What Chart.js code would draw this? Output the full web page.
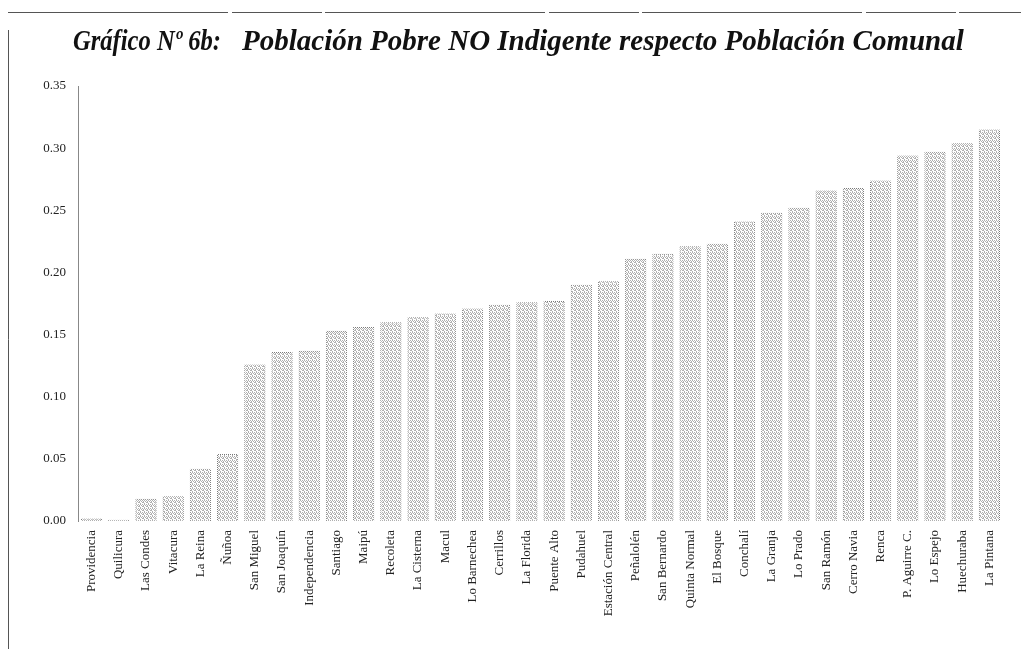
<!DOCTYPE html>
<html>
<head>
<meta charset="utf-8">
<script src="https://cdn.jsdelivr.net/npm/chart.js@4/dist/chart.umd.min.js"></script>
<style>
  body { margin: 0; background: #fff; }
  #caja { width: 1021px; height: 649px; position: relative; }
</style>
</head>
<body>
<div id="caja"><canvas id="grafico"></canvas></div>
<script>
const comunas = ['Providencia', 'Quilicura', 'Las Condes', 'Vitacura', 'La Reina', 'Ñuñoa',
    'San Miguel', 'San Joaquín', 'Independencia', 'Santiago', 'Maipú', 'Recoleta',
    'La Cisterna', 'Macul', 'Lo Barnechea', 'Cerrillos', 'La Florida', 'Puente Alto',
    'Pudahuel', 'Estación Central', 'Peñalolén', 'San Bernardo', 'Quinta Normal', 'El Bosque',
    'Conchalí', 'La Granja', 'Lo Prado', 'San Ramón', 'Cerro Navia', 'Renca',
    'P. Aguirre C.', 'Lo Espejo', 'Huechuraba', 'La Pintana'];

const pobresNoIndigentes = [0.002, 0.001, 0.018, 0.020, 0.042, 0.054,
    0.126, 0.136, 0.137, 0.153, 0.156, 0.160,
    0.164, 0.167, 0.171, 0.174, 0.176, 0.177,
    0.190, 0.193, 0.211, 0.215, 0.221, 0.223,
    0.241, 0.248, 0.252, 0.266, 0.268, 0.274,
    0.294, 0.297, 0.304, 0.315];

const ticksY = [0, 0.05, 0.10, 0.15, 0.20, 0.25, 0.30, 0.35];

const tituloA = 'Gráfico Nº 6b:';
const tituloB = 'Población Pobre NO Indigente respecto Población Comunal';

// trama punteada para imitar el relleno fotocopiado
const crearTrama = (tam, color, puntos) => {
    const c = document.createElement('canvas');
    c.width = tam; c.height = tam;
    const g = c.getContext('2d');
    g.fillStyle = color;
    puntos.forEach(([x, y]) => g.fillRect(x, y, 1, 1));
    return g.createPattern(c, 'repeat');
};

const ctx = document.getElementById('grafico').getContext('2d');
const relleno = crearTrama(4, '#b0b0b0', [[0, 0], [2, 0], [1, 1], [3, 2], [0, 3], [2, 2], [3, 1]]);
const borde = crearTrama(2, '#7a7a7a', [[0, 0], [1, 1]]);

const marco = {
    id: 'marco',
    afterDraw(chart) {
        const c = chart.ctx;
        c.save();
        c.strokeStyle = '#555';
        c.lineWidth = 1;
        c.beginPath();
        c.moveTo(8.5, 30); c.lineTo(8.5, 649);
        c.stroke();
        c.setLineDash([220, 4, 90, 3]);
        c.beginPath();
        c.moveTo(8, 12.5); c.lineTo(1021, 12.5);
        c.stroke();
        c.restore();

        c.save();
        c.fillStyle = '#111';
        c.font = 'italic bold 29px "Liberation Serif"';
        c.textBaseline = 'alphabetic';
        c.textAlign = 'left';
        c.fillText(tituloA, 73, 50, 148);
        c.fillText(tituloB, 242, 50, 723);
        c.restore();
    }
};

new Chart(ctx, {
    type: 'bar',
    data: {
        labels: comunas,
        datasets: [{
            data: pobresNoIndigentes,
            backgroundColor: relleno,
            borderColor: borde,
            borderWidth: 1,
            categoryPercentage: 1,
            barPercentage: 0.78
        }]
    },
    options: {
        responsive: true,
        maintainAspectRatio: false,
        animation: false,
        layout: { padding: { left: 36, right: 18, top: 86, bottom: 0 } },
        plugins: { legend: { display: false }, tooltip: { enabled: false } },
        scales: {
            x: {
                grid: { display: false, drawTicks: false },
                border: { display: false },
                afterFit: (s) => { s.height = 128; },
                ticks: {
                    autoSkip: false,
                    maxRotation: 90,
                    minRotation: 90,
                    padding: 9,
                    color: '#222',
                    font: { family: 'Liberation Serif', size: 13 }
                }
            },
            y: {
                min: 0,
                max: 0.35,
                afterFit: (s) => { s.width = 42; },
                afterBuildTicks: (s) => { s.ticks = ticksY.map(v => ({ value: v })); },
                grid: { display: false, drawTicks: false },
                border: { display: true, color: '#888', dash: [3, 3] },
                ticks: {
                    padding: 12,
                    color: '#222',
                    font: { family: 'Liberation Serif', size: 13 },
                    callback: (v) => Number(v).toFixed(2)
                }
            }
        }
    },
    plugins: [marco]
});
</script>
</body>
</html>
